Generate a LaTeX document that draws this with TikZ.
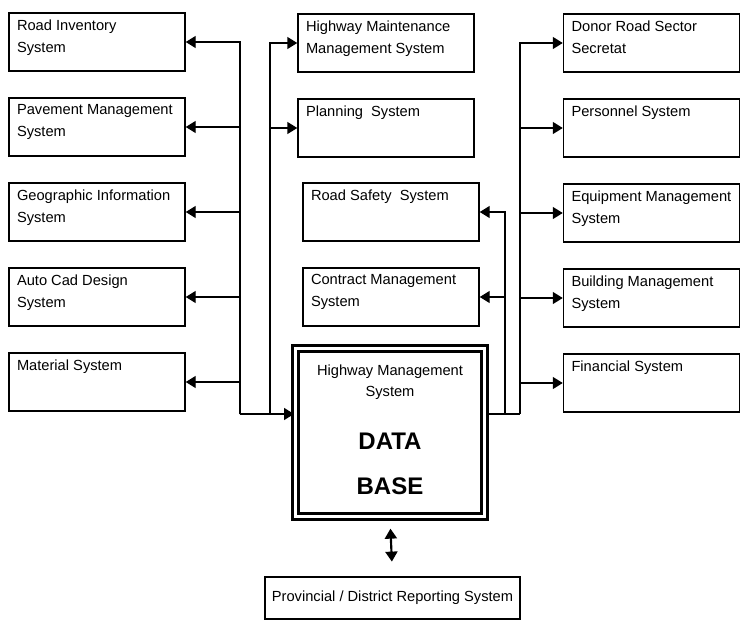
\documentclass[tikz,border=0pt]{standalone}
\usepackage{fontspec}
\setmainfont{Liberation Sans}
\usetikzlibrary{arrows.meta,positioning}

\begin{document}
\begin{tikzpicture}[x=0.75pt,y=-0.75pt]
	\tikzstyle{sys} = [draw, rectangle, line width=1.1pt, inner xsep=6pt, inner ysep=5pt, minimum width=132pt, minimum height=43.5pt, node distance=63.75pt, font=\fontsize{11}{16.5}\selectfont]
	\tikzstyle{hmsbox} = [draw, rectangle, double, line width=2.25pt, double distance=2.25pt, inner sep=0pt, minimum width=141.75pt, minimum height=126pt, font=\fontsize{11}{16}\selectfont]
	\tikzstyle{link} = [draw, line width=1.1pt, -{Triangle[length=7.5pt,width=9pt]}]

	\useasboundingbox (0,0) rectangle (742,620);

	% left column
	\node[sys] (road) at (97,42) {\begin{minipage}[c][33.5pt][t]{120pt}
		\raggedright
		Road Inventory\\
		System
	\end{minipage}};
	\node[sys] (pave) [below of=road] {\begin{minipage}[c][33.5pt][t]{120pt}
		\raggedright
		Pavement Management\\
		System
	\end{minipage}};
	\node[sys] (gis) [below of=pave] {\begin{minipage}[c][33.5pt][t]{120pt}
		\raggedright
		Geographic Information\\
		System
	\end{minipage}};
	\node[sys] (cad) [below of=gis] {\begin{minipage}[c][33.5pt][t]{120pt}
		\raggedright
		Auto Cad Design\\
		System
	\end{minipage}};
	\node[sys] (mat) [below of=cad] {\begin{minipage}[c][33.5pt][t]{120pt}
		\raggedright
		Material System
	\end{minipage}};

	% middle column
	\node[sys] (maint) at (386,43) {\begin{minipage}[c][33.5pt][t]{120pt}
		\raggedright
		Highway Maintenance\\
		Management System
	\end{minipage}};
	\node[sys] (plan) [below of=maint] {\begin{minipage}[c][33.5pt][t]{120pt}
		\raggedright
		Planning\ \ System
	\end{minipage}};
	\node[sys] (safety) at (391,212) {\begin{minipage}[c][33.5pt][t]{120pt}
		\raggedright
		Road Safety\ \ System
	\end{minipage}};
	\node[sys] (contract) [below of=safety] {\begin{minipage}[c][33.5pt][t]{120pt}
		\raggedright
		Contract Management\\
		System
	\end{minipage}};

	% right column
	\node[sys] (donor) at (651.5,43) {\begin{minipage}[c][33.5pt][t]{120pt}
		\raggedright
		Donor Road Sector\\
		Secretat
	\end{minipage}};
	\node[sys] (staff) [below of=donor] {\begin{minipage}[c][33.5pt][t]{120pt}
		\raggedright
		Personnel System
	\end{minipage}};
	\node[sys] (equip) [below of=staff] {\begin{minipage}[c][33.5pt][t]{120pt}
		\raggedright
		Equipment Management\\
		System
	\end{minipage}};
	\node[sys] (bldg) [below of=equip] {\begin{minipage}[c][33.5pt][t]{120pt}
		\raggedright
		Building Management\\
		System
	\end{minipage}};
	\node[sys] (fin) [below of=bldg] {\begin{minipage}[c][33.5pt][t]{120pt}
		\raggedright
		Financial System
	\end{minipage}};

	% data base
	\node[hmsbox] (hms) at (390,432.5) {\begin{minipage}[c][120pt][t]{130pt}
		\centering
		\vspace*{9pt}
		Highway Management\\
		System\par
		\vspace{5.5pt}
		{\fontsize{18}{34}\selectfont\bfseries DATA\\
		BASE\par}
	\end{minipage}};

	\node[draw, rectangle, line width=1.1pt, minimum width=191.25pt, minimum height=31.5pt, font=\fontsize{11}{16.5}\selectfont] (prov) at (392.5,598) {Provincial / District Reporting System};

	% bus junctions
	\coordinate (jl) at (240,414);
	\coordinate (jm) at (270,414);
	\coordinate (jr) at (505,414);
	\coordinate (jo) at (520,414);

	\draw[link] (jl) |- (road.east);
	\draw[link] (jl) |- (pave.east);
	\draw[link] (jl) |- (gis.east);
	\draw[link] (jl) |- (cad.east);
	\draw[link] (jl) |- (mat.east);
	\draw[link] (jm) |- (maint.west);
	\draw[link] (jm) |- (plan.west);
	\draw[link] (jl) -- (hms.west |- jl);

	\draw[line width=1.1pt] (hms.east |- jo) -- (jo);
	\draw[link] (jr) |- (safety.east);
	\draw[link] (jr) |- (contract.east);
	\draw[link] (jo) |- (donor.west);
	\draw[link] (jo) |- (staff.west);
	\draw[link] (jo) |- (equip.west);
	\draw[link] (jo) |- (bldg.west);
	\draw[link] (jo) |- (fin.west);

	\draw[line width=1.6pt, {Triangle[length=7.5pt,width=9pt]}-{Triangle[length=7.5pt,width=9pt]}, shorten <=8pt, shorten >=11pt] (hms.south) -- (prov.north);
\end{tikzpicture}
\end{document}
